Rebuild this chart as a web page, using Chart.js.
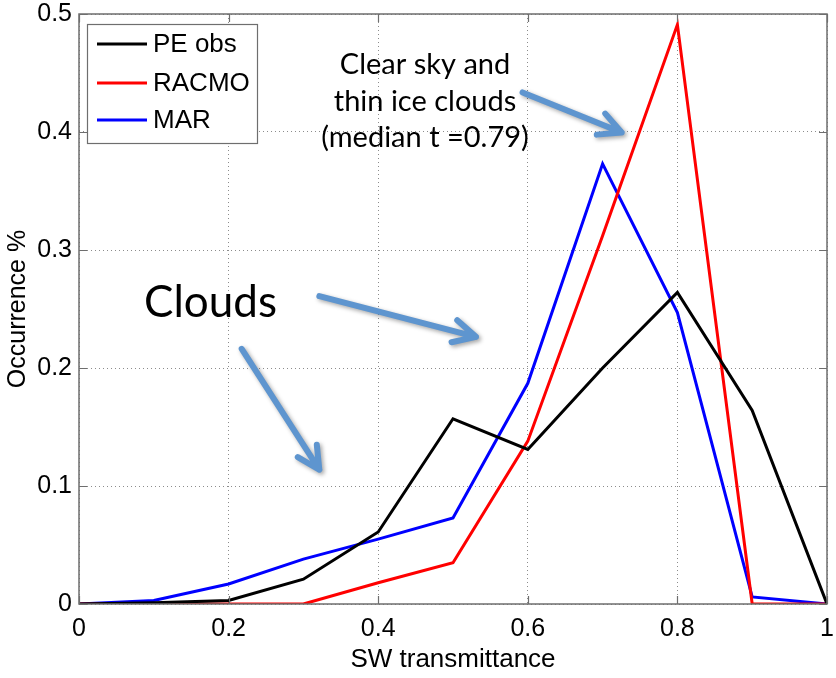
<!DOCTYPE html>
<html>
<head>
<meta charset="utf-8">
<script src="https://cdn.jsdelivr.net/npm/chart.js@4.4.0/dist/chart.umd.min.js"></script>
<style>
  html, body { margin: 0; padding: 0; background: #fff; }
  canvas { display: block; }
</style>
</head>
<body>
<canvas id="chart" width="836" height="678"></canvas>
<script>
// SW transmittance bins and occurrence fractions for each source
const transmittance = [0, 0.1, 0.2, 0.3, 0.4, 0.5, 0.6, 0.7, 0.8, 0.9, 1.0];
const peObs = [0, 0.001, 0.003, 0.021, 0.061, 0.157, 0.131, 0.200, 0.264, 0.164, 0];
const racmo = [0, 0, 0, 0, 0.018, 0.035, 0.138, 0.312, 0.491, 0, 0];
const mar   = [0, 0.003, 0.017, 0.038, 0.055, 0.073, 0.187, 0.373, 0.247, 0.006, 0];

const seriesNames  = ['PE obs', 'RACMO', 'MAR'];
const seriesValues = [peObs, racmo, mar];
const seriesColors = ['#000000', '#ff0000', '#0000ff'];

const xTickValues = [0, 0.2, 0.4, 0.6, 0.8, 1];
const xTickLabels = ['0', '0.2', '0.4', '0.6', '0.8', '1'];
const yTickValues = [0, 0.1, 0.2, 0.3, 0.4, 0.5];
const yTickLabels = ['0', '0.1', '0.2', '0.3', '0.4', '0.5'];

// Callout text and arrows, placed in data units
const clearSkyNote = {
  lines: ['Clear sky and', 'thin ice clouds', '(median t =0.79)'],
  x: 0.4626,
  baselines: [0.449, 0.4177, 0.387]
};
const cloudsNote = { text: 'Clouds', x: 0.1758, baseline: 0.2436 };
const arrows = [
  { from: [0.593, 0.4335], to: [0.7255, 0.3996] },
  { from: [0.3213, 0.2609], to: [0.5307, 0.2264] },
  { from: [0.2175, 0.2162], to: [0.3213, 0.1138] }
];

const AXIS_FONT = 'Liberation Sans, Arial, Helvetica, sans-serif';
const NOTE_FONT = 'Lato, Open Sans, sans-serif';
const FRAME = '#6e6e6e';

const frameAndNotes = {
  id: 'frameAndNotes',
  afterDatasetsDraw(chart) {
    const { ctx, chartArea: a, scales: { x, y } } = chart;
    ctx.save();

    // axes box
    ctx.strokeStyle = FRAME;
    ctx.lineWidth = 1.5;
    ctx.strokeRect(a.left, a.top, a.right - a.left, a.bottom - a.top);

    // inward tick marks on all four sides
    const tl = 8;
    ctx.lineWidth = 1.2;
    ctx.beginPath();
    xTickValues.forEach(v => {
      const px = Math.round(x.getPixelForValue(v)) + 0.5;
      ctx.moveTo(px, a.bottom); ctx.lineTo(px, a.bottom - tl);
      ctx.moveTo(px, a.top); ctx.lineTo(px, a.top + tl);
    });
    yTickValues.forEach(v => {
      const py = Math.round(y.getPixelForValue(v)) + 0.5;
      ctx.moveTo(a.left, py); ctx.lineTo(a.left + tl, py);
      ctx.moveTo(a.right, py); ctx.lineTo(a.right - tl, py);
    });
    ctx.stroke();

    // legend box
    const lx = a.left + 8, ly = a.top + 10, lw = 170, lh = 119;
    ctx.fillStyle = '#ffffff';
    ctx.fillRect(lx, ly, lw, lh);
    ctx.strokeStyle = FRAME;
    ctx.lineWidth = 1.2;
    ctx.strokeRect(lx + 0.5, ly + 0.5, lw, lh);
    const rowY = [20, 59, 96];
    ctx.font = '26px ' + AXIS_FONT;
    ctx.textBaseline = 'middle';
    ctx.textAlign = 'left';
    chart.data.datasets.forEach((ds, i) => {
      const cy = ly + rowY[i];
      ctx.strokeStyle = ds.borderColor;
      ctx.lineWidth = 3;
      ctx.beginPath();
      ctx.moveTo(lx + 10, cy); ctx.lineTo(lx + 60, cy);
      ctx.stroke();
      ctx.fillStyle = '#000';
      ctx.fillText(ds.label, lx + 66, cy + 1);
    });

    // callout text
    ctx.fillStyle = '#000';
    ctx.textBaseline = 'alphabetic';
    ctx.textAlign = 'center';
    ctx.font = '29px ' + NOTE_FONT;
    clearSkyNote.lines.forEach((t, i) => {
      ctx.fillText(t, x.getPixelForValue(clearSkyNote.x), y.getPixelForValue(clearSkyNote.baselines[i]));
    });
    ctx.font = '44px ' + NOTE_FONT;
    ctx.fillText(cloudsNote.text, x.getPixelForValue(cloudsNote.x), y.getPixelForValue(cloudsNote.baseline));

    // arrows with soft drop shadow
    ctx.strokeStyle = '#5e95cf';
    ctx.lineWidth = 6;
    ctx.lineCap = 'round';
    ctx.lineJoin = 'round';
    ctx.shadowColor = 'rgba(0,0,0,0.35)';
    ctx.shadowBlur = 4;
    ctx.shadowOffsetX = 2;
    ctx.shadowOffsetY = 2;
    arrows.forEach(ar => {
      const x0 = x.getPixelForValue(ar.from[0]), y0 = y.getPixelForValue(ar.from[1]);
      const x1 = x.getPixelForValue(ar.to[0]), y1 = y.getPixelForValue(ar.to[1]);
      const ang = Math.atan2(y1 - y0, x1 - x0);
      const hl = 25, spread = 0.47;
      ctx.beginPath();
      ctx.moveTo(x0, y0);
      ctx.lineTo(x1, y1);
      ctx.moveTo(x1 - hl * Math.cos(ang - spread), y1 - hl * Math.sin(ang - spread));
      ctx.lineTo(x1, y1);
      ctx.lineTo(x1 - hl * Math.cos(ang + spread), y1 - hl * Math.sin(ang + spread));
      ctx.stroke();
    });
    ctx.restore();
  }
};

new Chart(document.getElementById('chart'), {
  type: 'line',
  data: {
    datasets: seriesNames.map((name, i) => ({
      label: name,
      data: transmittance.map((t, j) => ({ x: t, y: seriesValues[i][j] })),
      borderColor: seriesColors[i],
      backgroundColor: seriesColors[i],
      borderWidth: 3,
      pointRadius: 0,
      tension: 0,
      fill: false
    }))
  },
  options: {
    responsive: false,
    animation: false,
    devicePixelRatio: 1,
    layout: { padding: { left: 0, right: 9, top: 14, bottom: 0 } },
    plugins: { legend: { display: false }, tooltip: { enabled: false } },
    scales: {
      x: {
        type: 'linear', min: 0, max: 1,
        afterBuildTicks: s => { s.ticks = xTickValues.map(v => ({ value: v })); },
        afterFit: s => { s.height = 74; s.paddingLeft = 0; s.paddingRight = 0; },
        ticks: {
          callback: (v, i) => xTickLabels[i],
          font: { family: AXIS_FONT, size: 25 },
          color: '#000', padding: 10, maxRotation: 0, autoSkip: false
        },
        grid: { color: '#8c8c8c', lineWidth: 1, drawTicks: false },
        border: { display: false, dash: [1, 3] },
        title: {
          display: true, text: 'SW transmittance', color: '#000',
          font: { family: AXIS_FONT, size: 26 }, padding: { top: 0, bottom: 3 }
        }
      },
      y: {
        type: 'linear', min: 0, max: 0.5,
        afterBuildTicks: s => { s.ticks = yTickValues.map(v => ({ value: v })); },
        afterFit: s => { s.width = 79; s.paddingTop = 0; s.paddingBottom = 0; },
        ticks: {
          callback: (v, i) => yTickLabels[i],
          font: { family: AXIS_FONT, size: 25 },
          color: '#000', padding: 7, autoSkip: false
        },
        grid: { color: '#8c8c8c', lineWidth: 1, drawTicks: false },
        border: { display: false, dash: [1, 3] },
        title: {
          display: true, text: 'Occurrence %', color: '#000',
          font: { family: AXIS_FONT, size: 25 }, padding: { top: 3, bottom: 0 }
        }
      }
    }
  },
  plugins: [frameAndNotes]
});
</script>
</body>
</html>
